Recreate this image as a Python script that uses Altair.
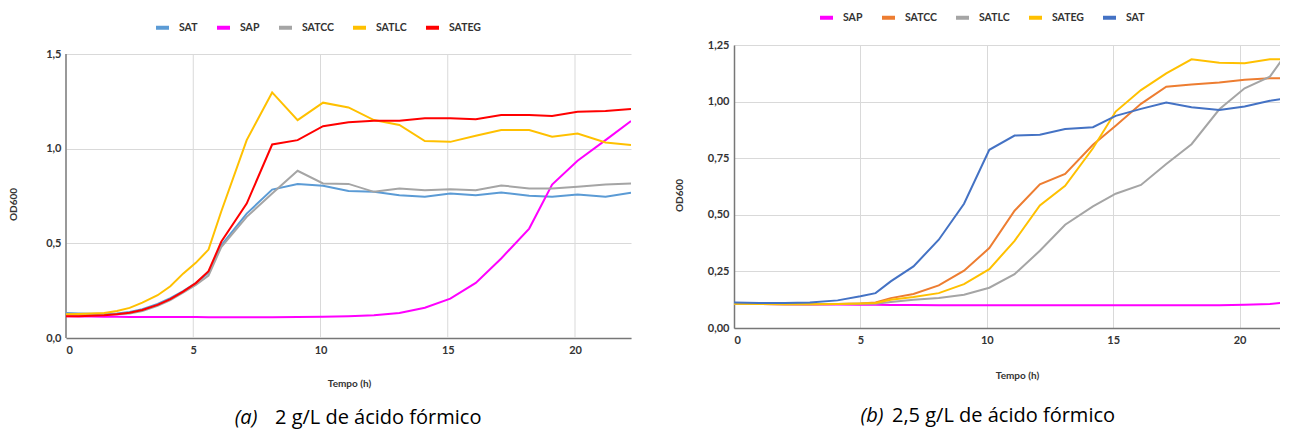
import altair as alt
import pandas as pd

# ---------------- data: panel (a) 2 g/L ----------------
t_a = [0, 0.5, 1.0, 1.5, 2.0, 2.5, 3.0, 3.6, 4.1, 4.6, 5.1, 5.6, 6.1, 7.1, 8.1, 9.1,
       10.1, 11.1, 12.1, 13.1, 14.1, 15.1, 16.1, 17.1, 18.2, 19.1, 20.1, 21.2, 22.2]
order_a = ["SAT", "SAP", "SATCC", "SATLC", "SATEG"]
colors_a = ["#5b9bd5", "#ff00ff", "#a5a5a5", "#ffc000", "#ff0000"]
a_SAT = [0.132, 0.130, 0.128, 0.128, 0.130, 0.138, 0.152, 0.180, 0.210, 0.248, 0.290, 0.345, 0.490,
         0.657, 0.784, 0.813, 0.804, 0.776, 0.772, 0.754, 0.746, 0.763, 0.754, 0.769, 0.751, 0.746,
         0.758, 0.746, 0.767]
a_SAP = [0.115, 0.114, 0.113, 0.112, 0.112, 0.111, 0.111, 0.111, 0.111, 0.111, 0.111, 0.110, 0.110,
         0.110, 0.110, 0.111, 0.112, 0.115, 0.120, 0.132, 0.160, 0.208, 0.291, 0.420, 0.578, 0.810,
         0.936, 1.045, 1.146]
a_SATCC = [0.125, 0.123, 0.122, 0.123, 0.125, 0.130, 0.143, 0.170, 0.200, 0.240, 0.280, 0.330, 0.480,
           0.640, 0.763, 0.883, 0.816, 0.814, 0.772, 0.790, 0.781, 0.786, 0.781, 0.806, 0.790, 0.790,
           0.799, 0.811, 0.816]
a_SATLC = [0.125, 0.127, 0.129, 0.132, 0.143, 0.159, 0.187, 0.226, 0.273, 0.340, 0.397, 0.467, 0.668,
           1.045, 1.297, 1.151, 1.243, 1.218, 1.151, 1.125, 1.040, 1.036, 1.068, 1.098, 1.098, 1.063,
           1.080, 1.033, 1.019]
a_SATEG = [0.115, 0.115, 0.117, 0.120, 0.126, 0.133, 0.148, 0.175, 0.205, 0.245, 0.290, 0.353, 0.508,
           0.710, 1.022, 1.045, 1.119, 1.139, 1.148, 1.148, 1.160, 1.160, 1.156, 1.178, 1.178, 1.172,
           1.195, 1.199, 1.209]

# ---------------- data: panel (b) 2,5 g/L ----------------
t_b = [0, 1.0, 2.0, 3.0, 4.1, 5.0, 5.6, 6.2, 7.1, 8.1, 9.1, 10.1, 11.1, 12.1, 13.1, 14.2,
       15.1, 16.1, 17.1, 18.1, 19.2, 20.2, 21.2, 21.9]
order_b = ["SAP", "SATCC", "SATLC", "SATEG", "SAT"]
colors_b = ["#ff00ff", "#ed7d31", "#a5a5a5", "#ffc000", "#4472c4"]
b_SAP = [0.108, 0.106, 0.105, 0.104, 0.104, 0.103, 0.103, 0.102, 0.102, 0.101, 0.101, 0.101,
         0.101, 0.100, 0.100, 0.100, 0.100, 0.100, 0.100, 0.101, 0.101, 0.103, 0.106, 0.113]
b_SATCC = [0.107, 0.106, 0.105, 0.105, 0.106, 0.108, 0.113, 0.132, 0.150, 0.188, 0.253, 0.353,
           0.518, 0.635, 0.681, 0.809, 0.893, 0.990, 1.066, 1.076, 1.084, 1.096, 1.103, 1.103]
b_SATLC = [0.107, 0.106, 0.105, 0.105, 0.106, 0.107, 0.107, 0.115, 0.125, 0.132, 0.147, 0.178,
           0.238, 0.341, 0.456, 0.537, 0.593, 0.632, 0.724, 0.812, 0.966, 1.059, 1.110, 1.220]
b_SATEG = [0.107, 0.106, 0.105, 0.105, 0.106, 0.108, 0.110, 0.125, 0.137, 0.154, 0.194, 0.260,
           0.385, 0.541, 0.628, 0.794, 0.956, 1.051, 1.125, 1.187, 1.172, 1.169, 1.187, 1.187]
b_SAT = [0.113, 0.110, 0.110, 0.113, 0.122, 0.140, 0.154, 0.206, 0.272, 0.390, 0.549, 0.787,
         0.850, 0.854, 0.879, 0.887, 0.937, 0.968, 0.996, 0.975, 0.963, 0.978, 1.004, 1.015]

# axis ticks
x_ticks = [0, 5, 10, 15, 20]
y_ticks_a = [0, 0.5, 1.0, 1.5]
y_ticks_b = [0, 0.25, 0.5, 0.75, 1.0, 1.25]

FONT = "Lato"
CAP_FONT = "Open Sans"
GRID = "#d9d9d9"
DOMAIN = "#777777"


def long_df(t, series):
    rows = []
    for name, vals in series:
        for tt, v in zip(t, vals):
            rows.append({"t": tt, "od": v, "serie": name})
    return pd.DataFrame(rows)


df_a = long_df(t_a, [("SAT", a_SAT), ("SAP", a_SAP), ("SATCC", a_SATCC),
                     ("SATLC", a_SATLC), ("SATEG", a_SATEG)])
df_b = long_df(t_b, [("SAP", b_SAP), ("SATCC", b_SATCC), ("SATLC", b_SATLC),
                     ("SATEG", b_SATEG), ("SAT", b_SAT)])


def panel(df, order, colors, xmax, ydom, yvals, yfmt, width, height,
          legend_x, legend_y, ytitle_x, ytitle_y, xtitle_x, xtitle_y,
          tag, tag_x, cap, cap_x, cap_y, manual_grid):
    xscale = alt.Scale(domain=[0, xmax], nice=False, zero=True)
    yscale = alt.Scale(domain=[0, ydom], nice=False)
    lines = alt.Chart(df).mark_line(strokeWidth=2, clip=True).encode(
        x=alt.X("t:Q", scale=xscale,
                axis=alt.Axis(values=x_ticks, title="Tempo (h)",
                              grid=not manual_grid,
                              titleX=xtitle_x, titleY=xtitle_y,
                              titleBaseline="middle", titleAlign="center",
                              labelPadding=6)),
        y=alt.Y("od:Q", scale=yscale,
                axis=alt.Axis(values=yvals, title="OD600",
                              domain=not manual_grid,
                              labelExpr="replace(format(datum.value, '" + yfmt + "'), '.', ',')",
                              titleX=ytitle_x, titleY=ytitle_y, titleAngle=-90,
                              titleBaseline="middle", titleAlign="center",
                              labelPadding=5)),
        color=alt.Color("serie:N",
                        scale=alt.Scale(domain=order, range=colors),
                        legend=alt.Legend(orient="none", direction="horizontal",
                                          legendX=legend_x, legendY=legend_y,
                                          padding=0, title=None,
                                          symbolType="stroke", symbolStrokeWidth=4,
                                          symbolSize=169, labelOffset=8,
                                          columnPadding=11, labelFont=FONT,
                                          labelFontSize=10.5, labelFontWeight="bold",
                                          labelColor="#333333")),
    )
    layers = []
    if manual_grid:
        top = max(yvals)
        gx = pd.DataFrame({"g": [v for v in x_ticks if v > 0], "y0": 0.0, "y1": top})
        grid = alt.Chart(gx).mark_rule(color=GRID, strokeWidth=1).encode(
            x=alt.X("g:Q", scale=xscale, title="Tempo (h)"),
            y=alt.Y("y0:Q", scale=yscale, title="OD600"),
            y2="y1:Q")
        dom = pd.DataFrame({"g": [0.0], "y0": [0.0], "y1": [top]})
        yline = alt.Chart(dom).mark_rule(color=DOMAIN, strokeWidth=1.5).encode(
            x=alt.X("g:Q", scale=xscale, title="Tempo (h)"),
            y=alt.Y("y0:Q", scale=yscale, title="OD600"),
            y2="y1:Q")
        layers = [grid, yline]
    tag_mark = alt.Chart(pd.DataFrame({"c": [tag]})).mark_text(
        font=CAP_FONT, fontSize=20, fontStyle="italic", align="center",
        baseline="alphabetic", color="#000000"
    ).encode(x=alt.value(tag_x), y=alt.value(cap_y), text="c:N")
    cap_mark = alt.Chart(pd.DataFrame({"c": [cap]})).mark_text(
        font=CAP_FONT, fontSize=20, align="left", baseline="alphabetic", color="#000000"
    ).encode(x=alt.value(cap_x), y=alt.value(cap_y), text="c:N")
    return alt.layer(*layers, lines, tag_mark, cap_mark).properties(width=width, height=height)


# left panel: plot group is 9 px taller than its drawn frame so that its frame sits lower
left = panel(df_a, order_a, colors_a, 22.2, 1.5 * 293 / 284, y_ticks_a, ".1f", 565, 293,
             88, -26, -53, 159, 283, 45,
             "(a)", 180, "2 g/L de ácido fórmico", 209, 379, True)
right = panel(df_b, order_b, colors_b, 21.6, 1.25, y_ticks_b, ".2f", 546, 283,
              84, -36, -55, 150, 283, 47,
              "(b)", 138, "2,5 g/L de ácido fórmico", 158, 377, False)

chart = alt.concat(left, right, columns=2, align="none", spacing=43).resolve_scale(
    color="independent"
).properties(
    padding={"left": 0, "top": 1, "right": 0, "bottom": 1}
).configure_view(stroke=None).configure_axis(
    domainColor=DOMAIN, domainWidth=1.5, gridColor=GRID, gridWidth=1,
    ticks=False, labelFont=FONT, labelFontSize=11, labelFontWeight="bold",
    labelColor="#333333", titleFont=FONT, titleFontSize=10, titleFontWeight="bold",
    titleColor="#333333"
)

chart.save("out.html", embed_options={"renderer": "svg", "actions": False})
